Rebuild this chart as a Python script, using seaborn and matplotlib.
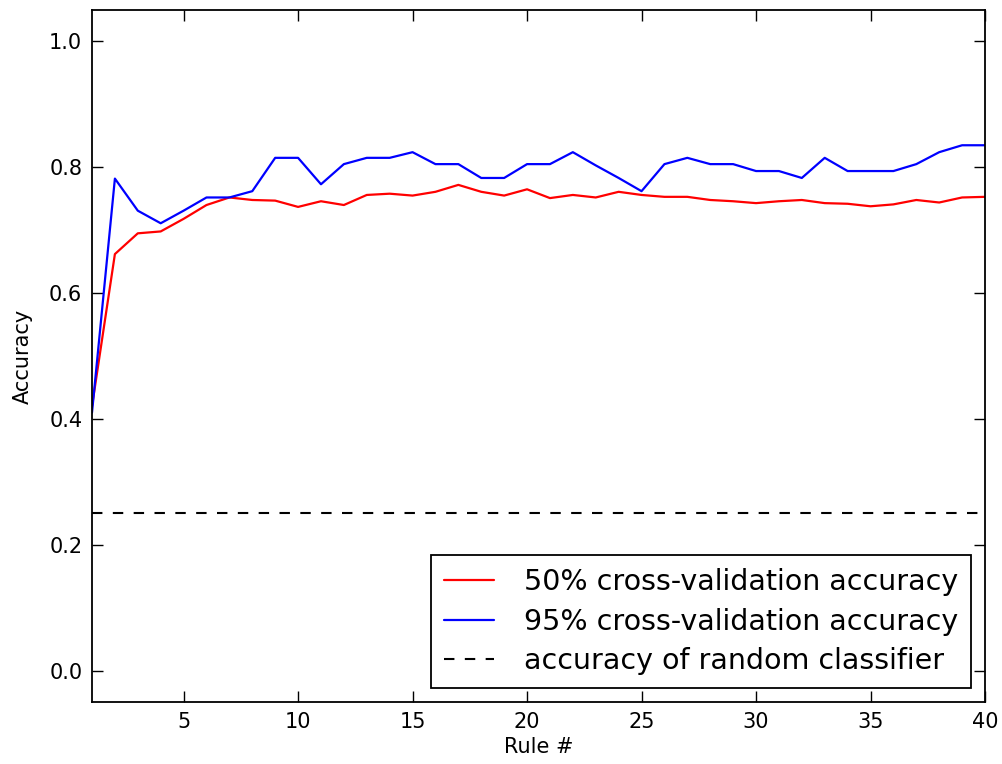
import numpy as np
import pandas as pd
import matplotlib
matplotlib.use("Agg")
import matplotlib.pyplot as plt
import seaborn as sns

rules = list(range(1, 41))
acc50 = [0.42, 0.662, 0.695, 0.698, 0.718, 0.740, 0.752, 0.748, 0.747, 0.737,
         0.746, 0.740, 0.756, 0.758, 0.755, 0.761, 0.772, 0.761, 0.755, 0.765,
         0.751, 0.756, 0.752, 0.761, 0.756, 0.753, 0.753, 0.748, 0.746, 0.743,
         0.746, 0.748, 0.743, 0.742, 0.738, 0.741, 0.748, 0.744, 0.752, 0.753]
acc95 = [0.41, 0.782, 0.731, 0.711, 0.731, 0.752, 0.752, 0.762, 0.815, 0.815,
         0.773, 0.805, 0.815, 0.815, 0.824, 0.805, 0.805, 0.783, 0.783, 0.805,
         0.805, 0.824, 0.803, 0.783, 0.762, 0.805, 0.815, 0.805, 0.805, 0.794,
         0.794, 0.783, 0.815, 0.794, 0.794, 0.794, 0.805, 0.824, 0.835, 0.835]
random_acc = 0.25
labels = ["50% cross-validation accuracy", "95% cross-validation accuracy",
          "accuracy of random classifier"]
xticks = [5, 10, 15, 20, 25, 30, 35, 40]
yticks = [0.0, 0.2, 0.4, 0.6, 0.8, 1.0]

sns.set_style("white")
plt.rcParams['font.family'] = ['DejaVu Sans']
plt.rcParams['text.color'] = 'black'
plt.rcParams['axes.labelcolor'] = 'black'
plt.rcParams['xtick.color'] = 'black'
plt.rcParams['ytick.color'] = 'black'

fig = plt.figure(figsize=(10.03, 7.64), dpi=100)
ax = fig.add_axes([92/1003, 1 - 702/764, (985-92)/1003, (702-10)/764])

df = pd.DataFrame({"rule": rules, "a50": acc50, "a95": acc95})
sns.lineplot(data=df, x="rule", y="a50", ax=ax, color="#ff0000", lw=1.6,
             label=labels[0])
sns.lineplot(data=df, x="rule", y="a95", ax=ax, color="#0000ff", lw=1.6,
             label=labels[1])
ax.axhline(random_acc, color="black", ls="--", lw=1.5, dashes=(5, 5),
           label=labels[2])

ax.set_xlim(1, 40)
ax.set_ylim(-0.05, 1.05)
ax.set_xticks(xticks)
ax.set_yticks(yticks)
ax.set_xlabel("Rule #", fontsize=15, labelpad=4)
ax.set_ylabel("Accuracy", fontsize=15, labelpad=12)
ax.tick_params(direction="in", length=8, width=1, labelsize=15,
               top=True, right=True, left=True, bottom=True, pad=7)
for s in ax.spines.values():
    s.set_color("black")
    s.set_linewidth(1.3)

leg = ax.legend(loc="lower right", fontsize=20.5, frameon=True, fancybox=False,
                edgecolor="black", framealpha=1, borderpad=0.45,
                handlelength=1.75, handletextpad=1.05, labelspacing=0.4,
                borderaxespad=0.5)
leg.get_frame().set_linewidth(1.3)

fig.savefig("out.png", dpi=100)
